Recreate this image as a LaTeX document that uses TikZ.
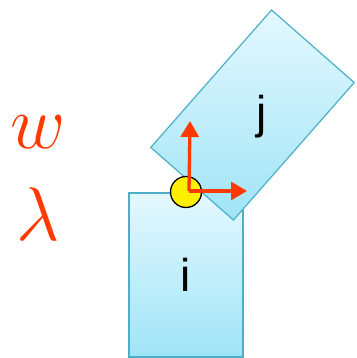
\RequirePackage{fix-cm}
\documentclass[tikz,border=0pt]{standalone}
\usepackage{fontspec}
\setsansfont{Liberation Sans}
\usetikzlibrary{arrows.meta,positioning}

\definecolor{linkedge}{HTML}{4BAFC8}
\definecolor{linklight}{HTML}{E4F8FE}
\definecolor{linkdark}{HTML}{A0E4F7}
\definecolor{axisred}{HTML}{FF3A00}
\definecolor{jointyellow}{HTML}{FFF000}

\begin{document}
\begin{tikzpicture}[
        x=1pt, y=1pt,
        link/.style={
            draw=linkedge,
            line width=1.2pt,
            top color=linklight,
            bottom color=linkdark,
            inner sep=0pt,
            font=\sffamily\fontsize{46}{50}\selectfont
        },
        joint/.style={
            circle,
            draw=black,
            line width=1.3pt,
            fill=jointyellow,
            minimum size=31pt,
            inner sep=0pt
        },
        param/.style={
            text=axisred,
            font=\fontsize{76}{80}\selectfont
        },
        axis/.style={
            -{Triangle[length=16pt,width=18pt]},
            draw=axisred,
            line width=3.3pt
        }
    ]
        \useasboundingbox (0,0) rectangle (356,358);

        \node[link, minimum width=114pt, minimum height=164pt]
            (i) at (186,83) {i};
        \node[link, minimum width=110pt, minimum height=183pt, rotate=-41.3]
            (j) at (252.5,243) {};
        \node[font=\sffamily\fontsize{46}{50}\selectfont]
            (jlabel) at ([shift={(9,-2)}]j.center) {j};

        \node[param] (w) at (38,226) {$w$};
        \node[param] (lambda) at (38,144) {$\lambda$};

        \node[joint] (hinge) at (186,166) {};
        \coordinate (origin) at (189,167);
        \coordinate (yaxis) at (190,237);
        \coordinate (xaxis) at (247,167);

        \draw[axis] (origin) -- (yaxis);
        \draw[axis] (origin) -- (xaxis);

    \end{tikzpicture}
\end{document}
